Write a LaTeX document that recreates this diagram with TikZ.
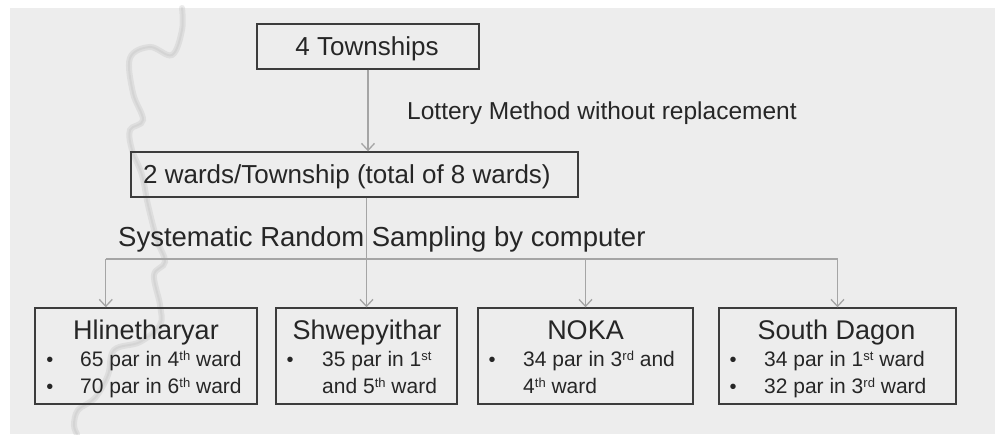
\documentclass[tikz,border=0pt]{standalone}
\usepackage{fontspec}
\setmainfont{Liberation Sans}
\usetikzlibrary{arrows.meta,calc}
\definecolor{bg}{HTML}{EDEDED}
\definecolor{ink}{HTML}{262626}
\definecolor{frame}{HTML}{3C3C3C}
\definecolor{link}{HTML}{A5A5A5}
\definecolor{smoke}{HTML}{C4C4C4}
\newcommand\fs[1]{\fontsize{#1}{#1}\selectfont}
\newcommand\sups[1]{\raisebox{6pt}{\fontsize{13}{13}\selectfont #1}}
\tikzset{
  box/.style={draw=frame, line width=1.4pt, inner sep=0pt},
  txt/.style={inner sep=0pt, anchor=base west, text=ink},
  ttl/.style={inner sep=0pt, anchor=base, text=ink, font=\fs{27}},
  dot/.style={inner sep=0pt, anchor=base, text=ink, font=\fs{20}},
  item/.style={txt, font=\fs{21}},
  conn/.style={draw=link, line width=1.3pt},
  arr/.style={conn, -{Straight Barb[length=7pt,width=13pt,line width=1.3pt]}}
}
\begin{document}
\begin{tikzpicture}[x=1pt, y=-1pt]
\useasboundingbox (0,0) rectangle (995,434);
\fill[white] (0,0) rectangle (995,434);
\fill[bg] (10,8) rectangle (995,434);

% faint smoke wisp down the left side
\draw[smoke, opacity=0.35, line width=6pt, line cap=round]
  plot[smooth, tension=0.6] coordinates {
    (182,8) (182,30) (172,55) (150,47) (130,58) (133,93) (143,120)
    (130,130) (132,150) (142,175) (148,205) (157,240) (165,262)
    (154,275) (160,305) (160,325) (140,342) (114,350) (108,375)
    (95,398) (78,410) (74,425) (77,434)};
\draw[smoke, opacity=0.35, line width=2pt, line cap=round]
  plot[smooth, tension=0.6] coordinates {
    (182,8) (182,30) (172,55) (150,47) (130,58) (133,93) (143,120)
    (130,130) (132,150) (142,175) (148,205) (157,240) (165,262)
    (154,275) (160,305) (160,325) (140,342) (114,350) (108,375)
    (95,398) (78,410) (74,425) (77,434)};

% boxes
\node[box, minimum width=222pt, minimum height=45pt] (town) at (368,46.5) {};
\node[box, minimum width=447pt, minimum height=45pt] (ward) at (354.5,174.5) {};
\node[box, minimum width=222pt, minimum height=96pt] (hl) at (146,356) {};
\node[box, minimum width=181pt, minimum height=96pt] (sw) at (366.5,356) {};
\node[box, minimum width=215pt, minimum height=96pt] (nk) at (585.5,356) {};
\node[box, minimum width=237pt, minimum height=96pt] (sd) at (837.5,356) {};

% top texts
\node[txt, anchor=base, font=\fs{26}] (town-t) at (367,55) {4 Townships};
\node[txt, font=\fs{24.5}] (lot-t) at (407,119) {Lottery Method without replacement};
\node[txt, font=\fs{26}] (ward-t) at (143,183) {2 wards/Township (total of 8 wards)};
\node[txt, font=\fs{27.5}] (sys-t) at (118,246.5) {Systematic Random Sampling by computer};

% township boxes
\node[ttl] (hl-t) at (146,339) {Hlinetharyar};
\node[dot] (hl-d1) at (50,366) {•};
\node[item] (hl-l1) at (80,366) {65 par in 4\sups{th} ward};
\node[dot] (hl-d2) at (50,393) {•};
\node[item] (hl-l2) at (80,393) {70 par in 6\sups{th} ward};

\node[ttl] (sw-t) at (367,339) {Shwepyithar};
\node[dot] (sw-d1) at (290,366) {•};
\node[item] (sw-l1) at (322,366) {35 par in 1\sups{st}};
\node[item] (sw-l2) at (322,393) {and 5\sups{th} ward};

\node[ttl] (nk-t) at (585.5,339) {NOKA};
\node[dot] (nk-d1) at (492,366) {•};
\node[item] (nk-l1) at (523,366) {34 par in 3\sups{rd} and};
\node[item] (nk-l2) at (523,393) {4\sups{th} ward};

\node[ttl] (sd-t) at (836.5,339) {South Dagon};
\node[dot] (sd-d1) at (733,366) {•};
\node[item] (sd-l1) at (764,366) {34 par in 1\sups{st} ward};
\node[dot] (sd-d2) at (733,393) {•};
\node[item] (sd-l2) at (764,393) {32 par in 3\sups{rd} ward};

% connectors
\coordinate (bus) at (367,259);
\coordinate (hl-in) at ($(hl.north west)!0.32!(hl.north east)$);
\draw[arr] (town.south) -- (town.south |- ward.north);
\draw[conn] (hl-in |- bus) -- (sd.north |- bus);
\draw[arr] (ward.south -| sw.north) -- (sw.north);
\draw[arr] (hl-in |- bus) -- (hl-in);
\draw[arr] (nk.north |- bus) -- (nk.north);
\draw[arr] (sd.north |- bus) -- (sd.north);
\end{tikzpicture}
\end{document}
